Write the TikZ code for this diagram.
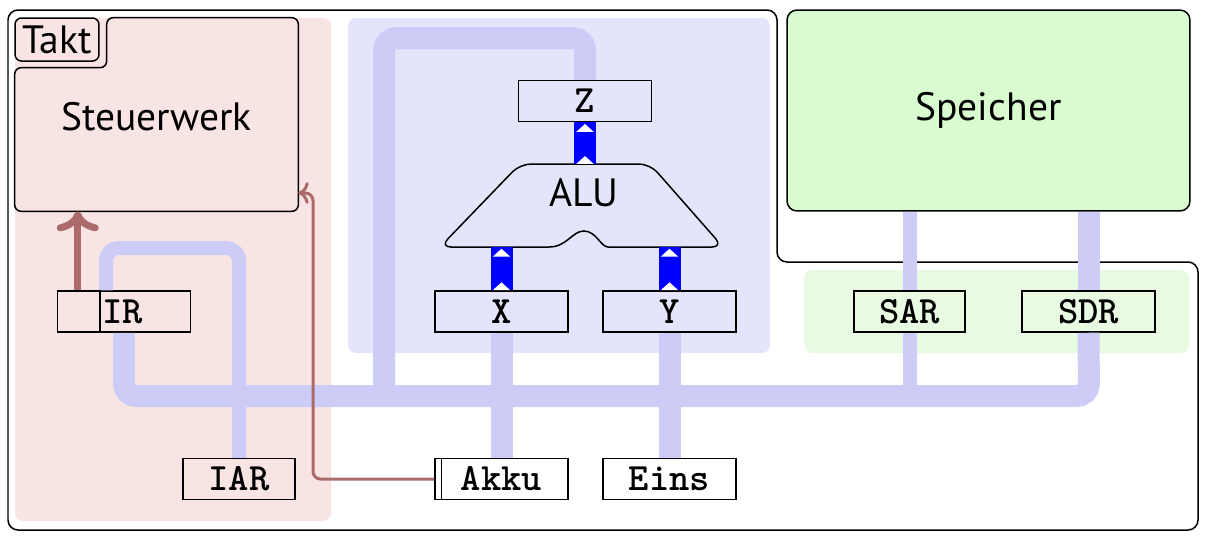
\documentclass[tikz,border=0pt]{standalone}
\usepackage{fontspec}
\setmainfont{PT Sans}
\setmonofont{Latin Modern Mono Light}
\usetikzlibrary{calc, arrows.meta, decorations.markings}

\definecolor{steuerbg}{RGB}{249,228,228}
\definecolor{alubg}{RGB}{228,228,250}
\definecolor{membg}{RGB}{232,251,226}
\definecolor{memfill}{RGB}{216,252,208}
\definecolor{busblue}{RGB}{204,204,247}
\definecolor{ctlbrown}{RGB}{172,107,107}

\tikzset{
  reg/.style={draw, line width=0.03cm, inner sep=0pt, minimum width=2.66cm, minimum height=0.82cm,
    font=\ttfamily\bfseries\fontsize{22}{24}\selectfont},
  unit/.style={inner sep=0pt, font=\fontsize{22.5}{26}\selectfont},
  area/.style={rounded corners=0.16cm},
  bus/.style={draw=busblue, line width=0.44cm, rounded corners=0.25cm},
  addrbus/.style={bus, line width=0.28cm},
  ctrl/.style={draw=blue, line width=0.44cm, postaction={decorate},
    decoration={markings,
      mark=at position 0.01pt with {\fill[white] (0,-5pt) -- (4.5pt,0) -- (0,5pt) -- cycle;},
      mark=at position -5.5pt with {\fill[white] (0,-5pt) -- (4.5pt,0) -- (0,5pt) -- cycle;}}},
  signal/.style={draw=ctlbrown, -{To[scale=1.1]}, line width=0.06cm, rounded corners=0.15cm},
}

\begin{document}
\begin{tikzpicture}[x=0.02cm, y=-0.02cm]
  \useasboundingbox (0,0) rectangle (1210,542);

  \fill[steuerbg, area] (15,18) rectangle (331,521);
  \fill[alubg, area] (348,18) rectangle (770,353);
  \fill[membg, area] (804,270) rectangle (1189,353);

  \draw[line width=0.03cm, rounded corners=0.2cm] (8,10) -- (777,10) -- (777,262) -- (1198,262)
    -- (1198,530) -- (8,530) -- cycle;

  \node[draw, line width=0.03cm, fill=memfill, rounded corners=0.2cm, minimum width=8.06cm,
    minimum height=4.02cm, unit] (Speicher) at (988.5,110.5) {Speicher};

  \node[unit, minimum width=5.66cm, minimum height=3.86cm] (Steuerwerk) at (156.5,114.5) {};
  \draw[line width=0.03cm, fill=steuerbg, rounded corners=0.13cm]
    ($(Steuerwerk.north west)+(0,50)$) -- (Steuerwerk.south west) -- (Steuerwerk.south east)
    -- (Steuerwerk.north east) -- ($(Steuerwerk.north west)+(92,0)$)
    -- ($(Steuerwerk.north west)+(92,50)$) -- cycle;
  \node[unit] at ($(Steuerwerk.center)+(0,2)$) {Steuerwerk};
  \node[draw, line width=0.03cm, rounded corners=0.13cm, unit, minimum width=1.68cm,
    minimum height=0.86cm] (Takt) at (57,39.5) {Takt};

  \node[reg, fill=steuerbg] (IR) at (124,311.5) {};
  \node[reg, fill=steuerbg, minimum width=2.24cm] (IAR) at (239,479) {IAR};
  \node[reg, fill=alubg] (X) at (501.5,311.5) {X};
  \node[reg, fill=alubg] (Y) at (669.5,311.5) {Y};
  \node[reg, fill=alubg] (Z) at (585,101) {Z};
  \node[reg, fill=white] (Akku) at (501.5,479) {Akku};
  \node[reg, fill=white] (Eins) at (669.5,479) {Eins};
  \node[reg, fill=membg, minimum width=2.22cm] (SAR) at (909.5,311.5) {SAR};
  \node[reg, fill=membg] (SDR) at (1088.5,311.5) {SDR};

  \coordinate (busR) at (1089,396);
  \coordinate (zloop) at (384,38);
  \coordinate (iarloop) at (106,248);
  \draw[bus] (IR.south) |- (busR) -- (SDR.south);
  \draw[bus] (SDR.north) -- (SDR.north |- Speicher.south);
  \draw[bus] (Z.north) |- (zloop) -- (zloop |- busR);
  \draw[bus] (X.south) -- (Akku.north);
  \draw[bus] (Y.south) -- (Eins.north);
  \draw[addrbus] (SAR.north |- Speicher.south) -- (SAR.north);
  \draw[addrbus] (SAR.south) -- (SAR.south |- busR);
  \draw[addrbus] (IR.north -| iarloop) |- (iarloop -| IAR) -- (IAR.north);

  \draw[line width=0.03cm] ($(IR.north west)+(43,0)$) -- ($(IR.south west)+(43,0)$);
  \node[anchor=west, inner sep=0pt, font=\ttfamily\bfseries\fontsize{22}{24}\selectfont] (IRtext)
    at ($(IR.west)+(45,0)$) {IR};
  \draw[line width=0.03cm] ($(Akku.north west)+(7,0)$) -- ($(Akku.south west)+(7,0)$);

  \draw[line width=0.03cm, fill=alubg, rounded corners=0.22cm] (520,164) -- (650,164) -- (723,247)
    -- (619,247) [sharp corners] .. controls (601,247) and (596,231) .. (584,231)
    .. controls (572,231) and (567,247) .. (549,247) [rounded corners=0.22cm] -- (440,247) -- cycle;
  \node[unit] (ALU) at (584,193) {ALU};
  \coordinate (alub) at (584,247);
  \coordinate (alut) at (585,164);

  \draw[ctrl] (X.north) -- (X.north |- alub);
  \draw[ctrl] (Y.north) -- (Y.north |- alub);
  \draw[ctrl] (alut) -- (Z.south);

  \coordinate (irctl) at ($(IR.north west)+(21,0)$);
  \coordinate (akkuturn) at (313,193);
  \draw[signal, line width=0.14cm] (irctl) -- (irctl |- Steuerwerk.south);
  \draw[signal] (Akku.west) -| (akkuturn) -- (akkuturn -| Steuerwerk.east);
\end{tikzpicture}
\end{document}
